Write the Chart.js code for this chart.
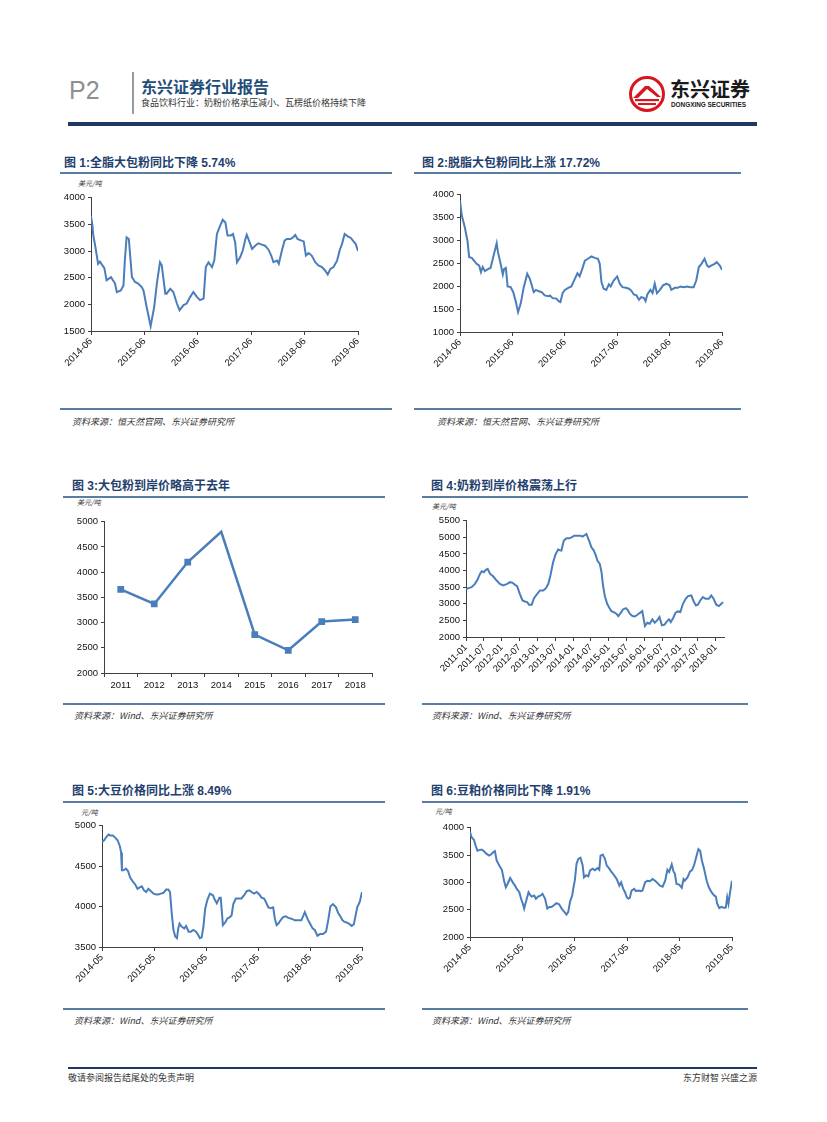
<!DOCTYPE html>
<html>
<head>
<meta charset="utf-8">
<script src="https://cdn.jsdelivr.net/npm/chart.js@4.4.1/dist/chart.umd.min.js"></script>
<style>
body { margin: 0; background: #fff; }
#page { position: relative; width: 827px; height: 1122px; overflow: hidden; font-family: "Liberation Sans", "Noto Sans CJK SC", sans-serif; }
.t { position: absolute; white-space: nowrap; line-height: 1; }
.title { font-size: 12px; font-weight: bold; color: #1f3f6e; }
.rule { position: absolute; height: 2px; background: #5a7ca3; }
.src { font-family: "Noto Sans CJK SC", sans-serif; font-size: 9px; font-style: italic; color: #333; }
.unit { font-family: "Noto Sans CJK SC", sans-serif; font-size: 7px; font-style: italic; color: #333; }
canvas { position: absolute; }
</style>
</head>
<body>
<div id="page">
  <!-- header -->
  <div class="t" style="left:69px;top:78px;font-size:25px;color:#8f8f8f;">P2</div>
  <div style="position:absolute;left:132px;top:72px;width:2px;height:42px;background:#9a9a9a;"></div>
  <div class="t" style="left:141px;top:78px;font-size:16px;font-weight:bold;color:#1f4e79;font-family:'Noto Sans CJK SC';">东兴证券行业报告</div>
  <div class="t" style="left:141px;top:98px;font-size:9px;color:#333;font-family:'Noto Sans CJK SC';">食品饮料行业：奶粉价格承压减小、瓦楞纸价格持续下降</div>
  <svg style="position:absolute;left:629px;top:76px;" width="36" height="36" viewBox="0 0 36 36">
    <circle cx="18" cy="18" r="16.5" fill="#fff" stroke="#d7161e" stroke-width="3"/>
    <polygon points="4,22 16,10 20,10 32,21 28,21 18,13 9,22" fill="#d7161e"/>
    <rect x="6" y="23" width="24" height="2.2" fill="#d7161e"/>
    <rect x="9" y="27" width="18" height="2" fill="#d7161e"/>
  </svg>
  <div class="t" style="left:670px;top:79px;font-size:20px;font-weight:bold;color:#1a1a1a;font-family:'Noto Sans CJK SC';">东兴证券</div>
  <div class="t" style="left:671px;top:102px;font-size:6.4px;font-weight:bold;color:#1a1a1a;">DONGXING SECURITIES</div>
  <div style="position:absolute;left:68px;top:122px;width:689px;height:4px;background:#1f3864;"></div>

  <!-- row 1 -->
  <div class="t title" style="left:64px;top:157px;">图 1:全脂大包粉同比下降 5.74%</div>
  <div class="rule" style="left:60px;top:172px;width:332px;"></div>
  <div class="t unit" style="left:78px;top:180px;">美元/吨</div>
  <canvas id="c1" width="307" height="192" style="left:61px;top:189px;"></canvas>
  <div class="rule" style="left:60px;top:408px;width:332px;"></div>
  <div class="t src" style="left:72px;top:417px;">资料来源：恒天然官网、东兴证券研究所</div>

  <div class="t title" style="left:422px;top:157px;">图 2:脱脂大包粉同比上涨 17.72%</div>
  <div class="rule" style="left:414px;top:172px;width:327px;"></div>
  <canvas id="c2" width="304" height="196" style="left:428px;top:186px;"></canvas>
  <div class="rule" style="left:414px;top:408px;width:327px;"></div>
  <div class="t src" style="left:437px;top:417px;">资料来源：恒天然官网、东兴证券研究所</div>

  <!-- row 2 -->
  <div class="t title" style="left:72px;top:480px;">图 3:大包粉到岸价略高于去年</div>
  <div class="rule" style="left:63px;top:496px;width:322px;"></div>
  <div class="t unit" style="left:77px;top:499px;">美元/吨</div>
  <canvas id="c3" width="314" height="182" style="left:68px;top:513px;"></canvas>
  <div class="rule" style="left:63px;top:703px;width:322px;"></div>
  <div class="t src" style="left:74px;top:711px;">资料来源：Wind、东兴证券研究所</div>

  <div class="t title" style="left:431px;top:480px;">图 4:奶粉到岸价格震荡上行</div>
  <div class="rule" style="left:422px;top:496px;width:326px;"></div>
  <div class="t unit" style="left:432px;top:503px;">美元/吨</div>
  <canvas id="c4" width="302" height="175" style="left:432px;top:512px;"></canvas>
  <div class="rule" style="left:422px;top:703px;width:326px;"></div>
  <div class="t src" style="left:432px;top:711px;">资料来源：Wind、东兴证券研究所</div>

  <!-- row 3 -->
  <div class="t title" style="left:72px;top:785px;">图 5:大豆价格同比上涨 8.49%</div>
  <div class="rule" style="left:63px;top:801px;width:322px;"></div>
  <div class="t unit" style="left:81px;top:809px;">元/吨</div>
  <canvas id="c5" width="302" height="180" style="left:70px;top:817px;"></canvas>
  <div class="rule" style="left:63px;top:1008px;width:322px;"></div>
  <div class="t src" style="left:74px;top:1016px;">资料来源：Wind、东兴证券研究所</div>

  <div class="t title" style="left:431px;top:785px;">图 6:豆粕价格同比下降 1.91%</div>
  <div class="rule" style="left:422px;top:801px;width:326px;"></div>
  <div class="t unit" style="left:435px;top:808px;">元/吨</div>
  <canvas id="c6" width="304" height="168" style="left:438px;top:819px;"></canvas>
  <div class="rule" style="left:422px;top:1008px;width:326px;"></div>
  <div class="t src" style="left:432px;top:1016px;">资料来源：Wind、东兴证券研究所</div>

  <!-- footer -->
  <div style="position:absolute;left:68px;top:1067px;width:689px;height:1.5px;background:#1f3864;"></div>
  <div class="t" style="left:68px;top:1073px;font-size:9px;color:#333;font-family:'Noto Sans CJK SC';">敬请参阅报告结尾处的免责声明</div>
  <div class="t" style="right:70px;top:1073px;font-size:9px;color:#333;font-family:'Noto Sans CJK SC';">东方财智 兴盛之源</div>
</div>

<script>
// chart 1: whole milk powder, months since 2014-06
const wmpMonths = [
  0, 0.3, 0.5, 1, 1.6, 2, 3, 3.5, 4.5, 5.4,
  5.8, 6.7, 7.3, 7.6, 8, 8.5, 9.2, 9.9, 10.6, 11.4,
  11.8, 12.5, 13.4, 14.2, 14.8, 15.5, 15.9, 16.7, 17, 17.8,
  18.5, 19.3, 19.9, 20.8, 21.5, 22.3, 23, 23.8, 24.5, 25.3,
  25.8, 26.4, 27.2, 27.7, 28.3, 29, 29.6, 30.2, 30.7, 31.4,
  31.9, 32.4, 32.8, 33.5, 34.1, 34.7, 35, 35.8, 36.2, 36.9,
  37.6, 38.4, 39.1, 39.9, 40.5, 41, 41.8, 42.2, 42.9, 43.5,
  44, 44.8, 45.4, 45.9, 46.4, 47, 47.8, 48.3, 48.9, 49.6,
  50.4, 51.1, 51.9, 52.6, 53.2, 53.8, 54.5, 55.3, 55.9, 56.4,
  57, 57.7, 58.4, 59, 59.5, 60
];
const wmpPrice = [
  3650, 3500, 3300, 3070, 2760, 2800, 2680, 2450, 2510, 2390,
  2230, 2260, 2355, 2820, 3255, 3225, 2510, 2420, 2390, 2325,
  2260, 1950, 1590, 1950, 2390, 2790, 2730, 2200, 2200, 2290,
  2230, 2015, 1890, 1985, 2015, 2140, 2230, 2140, 2080, 2110,
  2700, 2790, 2700, 2820, 3320, 3470, 3585, 3535, 3290, 3290,
  3320, 3160, 2790, 2880, 3010, 3225, 3305, 3130, 3040, 3100,
  3145, 3120, 3100, 3025, 2915, 2790, 2820, 2760, 3010, 3195,
  3225, 3225, 3255, 3300, 3225, 3205, 3180, 2915, 2960, 2915,
  2790, 2730, 2700, 2635, 2560, 2665, 2700, 2820, 3020, 3130,
  3320, 3275, 3245, 3180, 3130, 3000
];
const labels1406 = ['2014-06', '2015-06', '2016-06', '2017-06', '2018-06', '2019-06'];

// chart 2: skim milk powder, months since 2014-06
const smpMonths = [
  0, 0.4, 1.1, 1.7, 2.1, 2.7, 3.2, 3.8, 4.4, 4.8,
  5.2, 5.7, 6.5, 7.0, 7.6, 8.4, 8.7, 9.3, 9.8, 10.1,
  10.5, 10.9, 11.6, 12.2, 12.8, 13.3, 13.9, 14.6, 15.4, 16.0,
  16.9, 17.4, 17.9, 18.7, 19.4, 20.2, 20.6, 21.2, 22.1, 22.6,
  23.0, 23.5, 24.0, 24.8, 25.5, 26.3, 26.9, 27.4, 28.0, 28.6,
  29.3, 30.1, 30.9, 31.6, 32.0, 32.4, 32.9, 33.5, 34.1, 34.5,
  35.2, 36.0, 36.6, 37.2, 38.0, 38.7, 39.3, 39.8, 40.4, 41.0,
  41.5, 42.1, 42.5, 42.9, 43.6, 44.1, 44.6, 45.1, 45.7, 46.5,
  47.3, 48.0, 48.4, 49.2, 49.9, 50.5, 51.2, 52.0, 52.7, 53.5,
  54.1, 54.7, 55.3, 56.0, 56.6, 57.0, 57.5, 58.3, 58.8, 59.5,
  60.0
];
const smpPrice = [
  3870, 3550, 3290, 3000, 2635, 2620, 2560, 2490, 2450, 2310,
  2420, 2330, 2380, 2400, 2635, 2940, 2745, 2490, 2255, 2380,
  2400, 1995, 1980, 1870, 1655, 1435, 1620, 1980, 2270, 2160,
  1870, 1920, 1895, 1870, 1800, 1780, 1800, 1740, 1730, 1675,
  1655, 1850, 1920, 1965, 1995, 2160, 2285, 2215, 2380, 2560,
  2600, 2650, 2620, 2600, 2490, 2090, 1945, 1920, 2040, 1995,
  2125, 2215, 2055, 1980, 1965, 1945, 1895, 1820, 1800, 1705,
  1760, 1745, 1675, 1820, 1920, 1850, 2055, 1850, 1910, 2020,
  2055, 2020, 1920, 1965, 1965, 1995, 1980, 1995, 1980, 1980,
  2125, 2420, 2490, 2600, 2450, 2420, 2450, 2490, 2525, 2450,
  2360
];

// chart 3: annual landed price of bulk powder
const years3 = ['2011', '2012', '2013', '2014', '2015', '2016', '2017', '2018'];
const landed3 = [3660, 3370, 4200, 4800, 2760, 2450, 3020, 3060];

// chart 4: milk powder landed price, months since 2011-01
const mpMonths = [
  0, 0.8, 1.9, 3.0, 3.9, 4.7, 5.3, 6.0, 6.7, 7.3,
  8.1, 9.2, 10.3, 11.4, 12.5, 13.7, 14.8, 15.7, 16.5, 17.2,
  18.1, 19.0, 19.8, 20.6, 21.2, 22.1, 22.8, 23.7, 24.9, 26.0,
  26.9, 27.7, 28.4, 29.3, 30.1, 31.0, 31.6, 32.1, 32.9, 33.8,
  34.7, 35.5, 36.4, 37.5, 38.5, 39.2, 40.0, 40.5, 41.4, 42.2,
  43.0, 43.7, 44.2, 45.0, 45.6, 46.1, 46.7, 47.5, 48.2, 48.9,
  49.7, 50.6, 51.2, 52.0, 52.8, 53.8, 54.5, 55.1, 56.0, 56.8,
  57.7, 58.4, 59.3, 60.2, 61.0, 61.8, 62.7, 63.5, 64.3, 65.1,
  65.9, 66.8, 67.6, 68.3, 68.9, 69.7, 70.5, 71.3, 72.1, 73.0,
  73.9, 74.7, 75.8, 76.6, 77.4, 78.0, 78.8, 79.7, 80.6, 81.7,
  82.5, 83.3, 84.2, 85.1, 85.9, 86.5
];
const mpPrice = [
  3430, 3470, 3500, 3600, 3730, 3900, 3980, 3950, 4020, 4050,
  3900, 3820, 3700, 3600, 3550, 3590, 3650, 3630, 3570, 3530,
  3300, 3100, 3070, 3050, 2970, 2970, 3150, 3270, 3400, 3400,
  3470, 3600, 3850, 4250, 4480, 4630, 4610, 4600, 4900, 4970,
  4970, 5000, 5050, 5050, 5050, 5020, 5070, 5100, 4900, 4700,
  4600, 4450, 4300, 4200, 3950, 3550, 3230, 3000, 2880, 2780,
  2750, 2700, 2630, 2720, 2830, 2870, 2800, 2700, 2630, 2620,
  2670, 2720, 2780, 2330, 2430, 2400, 2530, 2430, 2500, 2600,
  2350, 2370, 2470, 2530, 2450, 2570, 2730, 2770, 2750, 3000,
  3150, 3230, 3250, 3070, 2950, 2970, 3100, 3200, 3150, 3150,
  3250, 3150, 2970, 2930, 3000, 3050
];
const labels1101 = ['2011-01', '2011-07', '2012-01', '2012-07', '2013-01', '2013-07', '2014-01', '2014-07',
  '2015-01', '2015-07', '2016-01', '2016-07', '2017-01', '2017-07', '2018-01'];

// chart 5: soybean, months since 2014-05
const soyMonths = [
  0, 0.5, 1.0, 1.5, 1.9, 2.5, 3.1, 3.6, 4.1, 4.4,
  4.6, 5.0, 5.5, 6.0, 6.5, 7.1, 7.7, 8.2, 8.8, 9.2,
  9.7, 10.2, 10.7, 11.3, 11.9, 12.5, 13.0, 13.6, 14.2, 14.8,
  15.3, 15.7, 16.1, 16.5, 16.9, 17.3, 17.6, 17.9, 18.4, 19.0,
  19.4, 20.0, 20.5, 21.1, 21.7, 22.3, 22.6, 23.0, 23.4, 23.8,
  24.3, 24.9, 25.6, 25.9, 26.5, 27.1, 27.4, 27.9, 28.4, 28.9,
  29.5, 29.9, 30.3, 30.9, 31.5, 32.2, 32.8, 33.4, 34.0, 34.5,
  35.1, 35.7, 36.3, 36.8, 37.4, 37.8, 38.4, 38.9, 39.5, 39.9,
  40.3, 40.7, 41.2, 41.8, 42.4, 43.0, 43.7, 44.5, 45.3, 46.0,
  46.4, 46.8, 47.4, 48.0, 48.6, 49.1, 49.7, 50.3, 51.0, 51.7,
  52.2, 52.7, 53.3, 54.0, 54.5, 55.0, 55.5, 56.0, 56.6, 57.2,
  57.6, 58.1, 58.6, 58.9, 59.5, 60.0
];
const soyPrice = [
  4800, 4820, 4860, 4890, 4880, 4880, 4850, 4820, 4750, 4670,
  4450, 4450, 4470, 4440, 4360, 4310, 4270, 4220, 4240, 4250,
  4200, 4180, 4220, 4190, 4160, 4150, 4150, 4160, 4170, 4210,
  4210, 4180, 3910, 3710, 3630, 3610, 3730, 3790, 3750, 3730,
  3760, 3690, 3690, 3710, 3690, 3640, 3610, 3620, 3750, 3970,
  4080, 4160, 4140, 4100, 4040, 4110, 4110, 3770, 3800, 3850,
  3870, 3890, 4030, 4100, 4100, 4100, 4140, 4190, 4200, 4180,
  4160, 4180, 4150, 4110, 4100, 4060, 3990, 3980, 3990, 3850,
  3770, 3790, 3830, 3870, 3880, 3860, 3850, 3830, 3830, 3830,
  3880, 3930, 3850, 3790, 3730, 3710, 3640, 3660, 3660, 3690,
  3830, 4000, 4030, 3990, 3920, 3880, 3830, 3810, 3800, 3780,
  3760, 3780, 3910, 3990, 4060, 4180
];
const labels1405 = ['2014-05', '2015-05', '2016-05', '2017-05', '2018-05', '2019-05'];

// chart 6: soybean meal, months since 2014-05
const mealMonths = [
  0, 0.4, 0.9, 1.3, 1.7, 2.1, 2.7, 3.2, 3.8, 4.4,
  4.8, 5.3, 5.7, 6.1, 6.7, 7.3, 7.8, 8.2, 8.6, 9.2,
  9.8, 10.3, 10.7, 11.3, 11.7, 12.1, 12.4, 12.8, 13.4, 13.7,
  14.1, 14.7, 15.1, 15.6, 16.2, 16.6, 17.2, 17.7, 18.2, 18.7,
  19.2, 19.8, 20.4, 21.0, 21.5, 22.1, 22.5, 22.9, 23.4, 23.7,
  24.0, 24.4, 24.8, 25.3, 25.8, 26.1, 26.6, 27.1, 27.5, 28.1,
  28.6, 29.2, 29.6, 29.9, 30.4, 30.9, 31.3, 31.9, 32.4, 33.0,
  33.6, 34.2, 34.6, 35.1, 35.5, 35.9, 36.3, 36.6, 37.0, 37.6,
  38.0, 38.5, 39.1, 39.5, 40.1, 40.6, 41.2, 41.8, 42.4, 42.9,
  43.5, 44.1, 44.7, 45.2, 45.6, 46.2, 46.6, 46.9, 47.3, 47.9,
  48.5, 48.9, 49.2, 49.8, 50.4, 50.8, 51.3, 51.8, 52.3, 52.7,
  53.1, 53.6, 54.2, 54.7, 55.3, 55.9, 56.3, 56.6, 57.1, 57.6,
  58.2, 58.6, 58.9, 59.2, 59.5, 60.0
];
const mealPrice = [
  3920, 3820, 3780, 3670, 3580, 3590, 3600, 3570, 3520, 3490,
  3510, 3550, 3570, 3400, 3310, 3230, 3030, 2910, 2970, 3080,
  3000, 2940, 2880, 2820, 2700, 2610, 2520, 2640, 2820, 2780,
  2740, 2760, 2700, 2740, 2760, 2790, 2700, 2520, 2550, 2550,
  2580, 2620, 2600, 2520, 2470, 2410, 2460, 2640, 2760, 2910,
  3030, 3340, 3430, 3450, 3310, 3090, 3130, 3110, 3220, 3250,
  3220, 3260, 3230, 3490, 3510, 3430, 3310, 3250, 3190, 3130,
  3060, 2940, 3000, 2880, 2820, 2730, 2700, 2720, 2850, 2880,
  2840, 2850, 2840, 2850, 3000, 3030, 3020, 3060, 3030, 2990,
  2940, 2920, 3030, 3230, 3190, 3330, 3200, 3160, 2970, 2960,
  2900, 3060, 3030, 3090, 3200, 3220, 3310, 3460, 3610, 3580,
  3400, 3250, 3030, 2910, 2820, 2760, 2740, 2610, 2530, 2550,
  2530, 2540, 2730, 2610, 2790, 3030
];

const BLUE = '#4a7ebb';
const AXIS = '#404040';
const yFont = { family: 'Liberation Sans', size: 9.5 };
const xFont = { family: 'Liberation Sans', size: 9.5 };

function points(xs, ys) {
  return xs.map((x, i) => ({ x: x, y: ys[i] }));
}

function yScale(min, max, width) {
  return {
    min: min, max: max,
    afterFit: s => { s.width = width; },
    ticks: { stepSize: 500, padding: 3, color: '#111', font: yFont, callback: v => String(v) },
    grid: { drawOnChartArea: false, tickLength: 3, color: AXIS },
    border: { color: AXIS, width: 1 }
  };
}

function monthScale(labels, step, max, height) {
  return {
    type: 'linear', min: 0, max: max,
    afterBuildTicks: s => { s.ticks = s.ticks.filter(t => t.value % step === 0); },
    afterFit: s => { s.height = height; },
    ticks: {
      stepSize: step, includeBounds: false, autoSkip: false, minRotation: 45, maxRotation: 45, padding: 1,
      color: '#111', font: xFont,
      callback: v => labels[Math.round(v / step)]
    },
    grid: { drawOnChartArea: false, tickLength: 4, color: AXIS },
    border: { color: AXIS, width: 1 }
  };
}

function seriesChart(id, xs, ys, xScale, ys2) {
  return new Chart(document.getElementById(id), {
    type: 'line',
    data: {
      datasets: [{
        data: points(xs, ys),
        borderColor: BLUE,
        borderWidth: 2,
        pointRadius: 0,
        tension: 0
      }]
    },
    options: {
      responsive: false,
      animation: false,
      layout: { padding: { top: 8, right: 10, left: 0, bottom: 0 } },
      plugins: { legend: { display: false }, tooltip: { enabled: false } },
      scales: { x: xScale, y: ys2 }
    }
  });
}

window.addEventListener('DOMContentLoaded', () => {
  seriesChart('c1', wmpMonths, wmpPrice, monthScale(labels1406, 12, 60, 50), yScale(1500, 4000, 30));
  seriesChart('c2', smpMonths, smpPrice, monthScale(labels1406, 12, 60, 50), yScale(1000, 4000, 32));
  seriesChart('c4', mpMonths, mpPrice, monthScale(labels1101, 6, 86.8, 50), yScale(2000, 5500, 34));
  seriesChart('c5', soyMonths, soyPrice, monthScale(labels1405, 12, 60, 50), yScale(3500, 5000, 32));
  seriesChart('c6', mealMonths, mealPrice, monthScale(labels1405, 12, 60, 50), yScale(2000, 4000, 32));

  new Chart(document.getElementById('c3'), {
    type: 'line',
    data: {
      labels: years3,
      datasets: [{
        data: landed3,
        borderColor: BLUE,
        backgroundColor: BLUE,
        borderWidth: 2.5,
        pointStyle: 'rect',
        pointRadius: ctx => (ctx.dataIndex === 3 ? 0 : 3),
        tension: 0
      }]
    },
    options: {
      responsive: false,
      animation: false,
      layout: { padding: { top: 8, right: 10, left: 0, bottom: 0 } },
      plugins: { legend: { display: false }, tooltip: { enabled: false } },
      scales: {
        x: {
          offset: true,
          afterFit: s => { s.height = 22; },
          ticks: { color: '#111', font: { family: 'Liberation Sans', size: 9.5 }, padding: 3, maxRotation: 0 },
          grid: { offset: true, drawOnChartArea: false, tickLength: 4, color: AXIS },
          border: { color: AXIS, width: 1 }
        },
        y: yScale(2000, 5000, 36)
      }
    }
  });
});
</script>
</body>
</html>
